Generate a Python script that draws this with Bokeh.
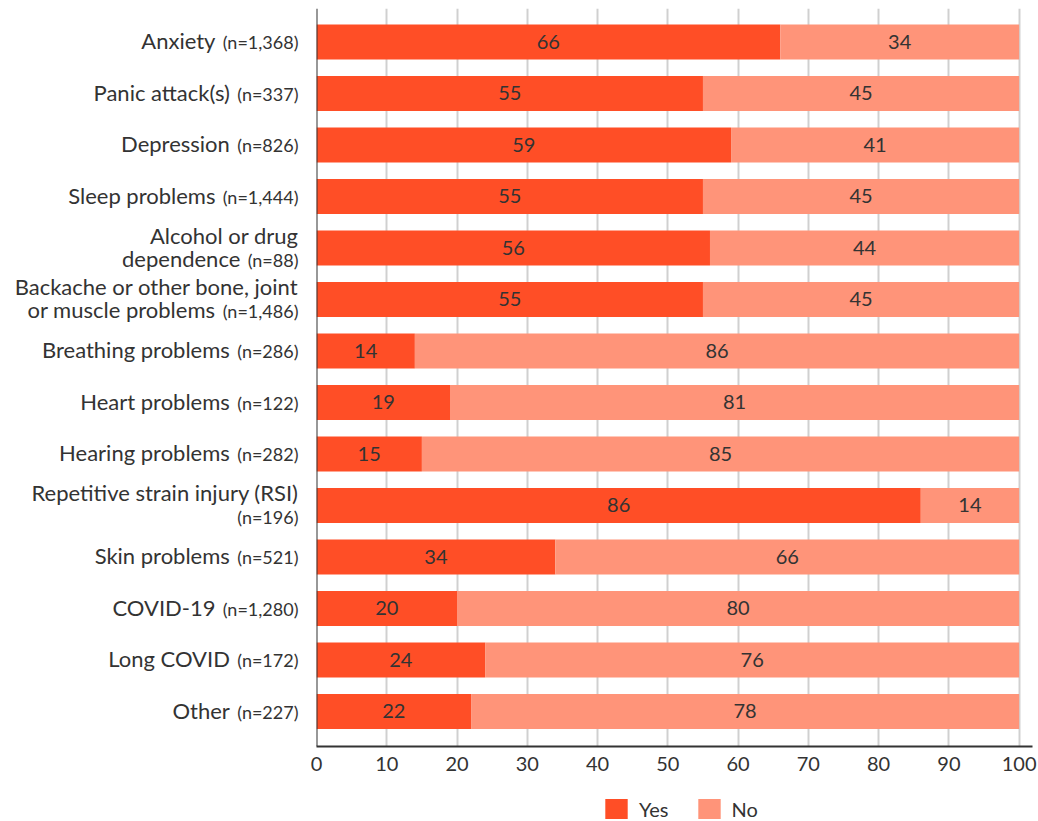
from bokeh.plotting import figure
from bokeh.layouts import row, column
from bokeh.models import (ColumnDataSource, Range1d, FixedTicker, Span,
                          Legend, LegendItem)
from bokeh.core.properties import value
from bokeh.embed import file_html
from bokeh.resources import INLINE

# Condition names (line breaks as shown on the chart) and their sample sizes
names = ["Anxiety", "Panic attack(s)", "Depression", "Sleep problems",
         "Alcohol or drug\ndependence",
         "Backache or other bone, joint\nor muscle problems",
         "Breathing problems", "Heart problems", "Hearing problems",
         "Repetitive strain injury (RSI)\n", "Skin problems", "COVID-19",
         "Long COVID", "Other"]
n_labels = ["(n=1,368)", "(n=337)", "(n=826)", "(n=1,444)", "(n=88)",
            "(n=1,486)", "(n=286)", "(n=122)", "(n=282)", "(n=196)",
            "(n=521)", "(n=1,280)", "(n=172)", "(n=227)"]
yes = [66, 55, 59, 55, 56, 55, 14, 19, 15, 86, 34, 20, 24, 22]
no = [34, 45, 41, 45, 44, 45, 86, 81, 85, 14, 66, 80, 76, 78]
series = ["Yes", "No"]

YES_COLOR = "#FF4E26"
NO_COLOR = "#FF9479"
TEXT = "#333333"
FONT = "Lato"
NAME_SIZE = 22
N_SIZE = 18
NUM_SIZE = 20
LINE_GAP = 23

idx = list(range(len(names)))
y_range = Range1d(start=len(names) - 1 + 0.68, end=-0.65)

# rough advance widths (em) for the sample-size strings
ADV = {"(": 0.30, ")": 0.30, "n": 0.56, "=": 0.58, ",": 0.22}


def text_width(s, size):
    return sum(ADV.get(ch, 0.58) for ch in s) * size


# ---- category labels panel ----
LABEL_W = 300
RIGHT = 298
lab_x, lab_y, lab_t, lab_xo, lab_yo = [], [], [], [], []
nx, ny, nt, nyo = [], [], [], []
for i, (name, nl) in enumerate(zip(names, n_labels)):
    lines = name.split("\n")
    k = len(lines)
    for j, line in enumerate(lines):
        yo = (j - (k - 1) / 2) * LINE_GAP - 1
        if j == k - 1:
            nx.append(RIGHT)
            ny.append(i)
            nt.append(nl)
            nyo.append(yo + 1.5)   # keep the smaller text on the same baseline
            xo = -(text_width(nl, N_SIZE) + 6)
        else:
            xo = 0
        if line:
            lab_x.append(RIGHT)
            lab_y.append(i)
            lab_t.append(line)
            lab_xo.append(xo)
            lab_yo.append(yo)

left = figure(frame_width=LABEL_W, frame_height=738,
              x_range=Range1d(0, LABEL_W), y_range=y_range,
              x_axis_type=None, y_axis_type=None,
              toolbar_location=None, output_backend="svg",
              min_border_left=0, min_border_right=0, min_border_top=8,
              min_border_bottom=0, outline_line_color=None)
left.grid.visible = False
left.text(x="x", y="y", text="t", x_offset="xo", y_offset="yo",
          source=ColumnDataSource(dict(x=lab_x, y=lab_y, t=lab_t,
                                       xo=lab_xo, yo=lab_yo)),
          text_align="right", text_baseline="middle",
          text_font=value(FONT), text_font_size=f"{NAME_SIZE}px",
          text_color=TEXT)
left.text(x="x", y="y", text="t", y_offset="yo",
          source=ColumnDataSource(dict(x=nx, y=ny, t=nt, yo=nyo)),
          text_align="right", text_baseline="middle",
          text_font=value(FONT), text_font_size=f"{N_SIZE}px",
          text_color=TEXT)

# ---- stacked bars ----
src = ColumnDataSource(dict(
    y=idx, yes=yes, no=no,
    yes_mid=[v / 2 for v in yes],
    no_mid=[a + b / 2 for a, b in zip(yes, no)],
    yes_t=[str(v) for v in yes], no_t=[str(v) for v in no]))

p = figure(frame_width=716, frame_height=738, x_range=Range1d(0, 101.9),
           y_range=y_range, toolbar_location=None, output_backend="svg",
           min_border_left=16, min_border_right=6, min_border_top=8,
           min_border_bottom=40, outline_line_color=None)
p.yaxis.visible = False
p.ygrid.visible = False
ticks = list(range(0, 101, 10))
p.xaxis.ticker = FixedTicker(ticks=ticks)
p.xgrid.ticker = FixedTicker(ticks=ticks)
p.xgrid.grid_line_color = "#d0d0d0"
p.xgrid.grid_line_width = 2
p.xaxis.axis_line_color = TEXT
p.xaxis.axis_line_width = 2
p.xaxis.major_tick_line_color = None
p.xaxis.minor_tick_line_color = None
p.xaxis.major_label_standoff = 4
p.xaxis.major_label_text_font = FONT
p.xaxis.major_label_text_font_size = f"{NUM_SIZE}px"
p.xaxis.major_label_text_color = TEXT

p.hbar_stack(["yes", "no"], y="y", height=0.68,
             color=[YES_COLOR, NO_COLOR], line_color=None, source=src)
p.add_layout(Span(location=0, dimension="height", line_color=TEXT,
                  line_width=2))

for xcol, tcol in (("yes_mid", "yes_t"), ("no_mid", "no_t")):
    p.text(x=xcol, y="y", text=tcol, source=src, text_align="center",
           text_baseline="middle", text_font=value(FONT),
           text_font_size=f"{NUM_SIZE}px", text_color=TEXT)

# ---- legend strip under the chart ----
TOTAL_W = LABEL_W + 16 + 716 + 6
leg = figure(frame_width=TOTAL_W, frame_height=35,
             x_range=Range1d(0, 1), y_range=Range1d(0, 1),
             x_axis_type=None, y_axis_type=None, toolbar_location=None,
             output_backend="svg", min_border=0, outline_line_color=None)
leg.grid.visible = False
items = []
for label, color in zip(series, [YES_COLOR, NO_COLOR]):
    # zero-width swatch renderer: only supplies the legend's colour key
    r = leg.hbar(y=[0.5], left=[0], right=[0], height=0,
                 fill_color=color, line_color=None)
    items.append(LegendItem(label=label, renderers=[r]))
legend = Legend(items=items, orientation="horizontal", location=(602, 0),
                glyph_width=28, glyph_height=25, label_height=25,
                label_standoff=9, spacing=26, padding=0, margin=0,
                border_line_color=None, background_fill_alpha=0,
                label_text_font=FONT, label_text_font_size="20px",
                label_text_color=TEXT)
leg.add_layout(legend)

layout = column(row(left, p), leg)
open("out.html", "w").write(file_html(layout, INLINE))
